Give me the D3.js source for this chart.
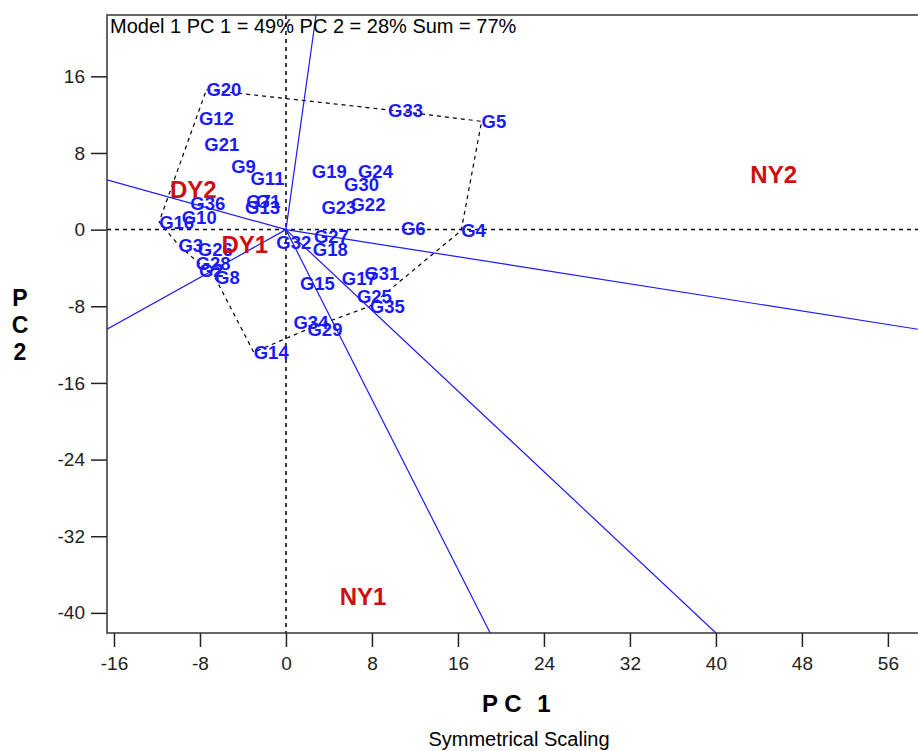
<!DOCTYPE html>
<html>
<head>
<meta charset="utf-8">
<script src="https://cdn.jsdelivr.net/npm/d3@7"></script>
<style>
  body { margin: 0; background: #fff; }
  svg { display: block; font-family: "Liberation Sans", Arial, sans-serif; }
</style>
</head>
<body>
<div id="container"></div>
<script>
// genotype scores (PC1, PC2)
const genoNames = ["G1","G2","G3","G4","G5","G6","G7","G8","G9","G10","G11","G12",
                   "G13","G14","G15","G16","G17","G18","G19","G20","G21","G22","G23","G24",
                   "G25","G26","G27","G28","G29","G30","G31","G32","G33","G34","G35","G36"];
const genoPC1 = [-2.8,-8.1,-10.0,16.3,18.2,10.7,-3.7,-6.6,-5.1,-9.7,-3.3,-8.1,
                 -3.8,-3.0,1.3,-11.8,5.2,2.5,2.4,-7.4,-7.6,6.0,3.3,6.7,
                 6.6,-8.2,2.6,-8.4,2.0,5.4,7.3,-0.9,9.5,0.7,7.8,-8.9];
const genoPC2 = [3.0,-4.3,-1.6,-0.1,11.3,0.1,2.9,-5.0,6.6,1.3,5.4,11.6,
                 2.3,-12.8,-5.6,0.8,-5.1,-2.1,6.1,14.6,8.9,2.6,2.3,6.1,
                 -7.0,-2.1,-0.7,-3.5,-10.4,4.7,-4.6,-1.3,12.5,-9.7,-8.0,2.7];

// environment scores
const envNames = ["DY1","DY2","NY1","NY2"];
const envPC1 = [-6.0,-10.8,5.0,43.2];
const envPC2 = [-1.5,4.2,-38.3,5.8];

// polygon vertices (convex hull of genotypes)
const hullNames = ["G20","G33","G5","G4","G35","G29","G14","G8","G3","G16","G20"];

// rays from the origin, perpendicular to polygon sides (end points)
const rayPC1 = [2.8,-16.65,58.8,-16.65,19.0,40.0];
const rayPC2 = [22.4,5.2,-10.4,-10.4,-42.1,-42.1];

const xTicks = [-16,-8,0,8,16,24,32,40,48,56];
const yTicks = [16,8,0,-8,-16,-24,-32,-40];

const w = 918, h = 751;
const padL = 107, padR = 918, padT = 15, padB = 633;

const xScale = d3.scaleLinear().domain([-16.65, 58.8]).range([padL, padR]);
const yScale = d3.scaleLinear().domain([-42.1, 22.4]).range([padB, padT]);

const svg = d3.select("#container").append("svg")
  .attr("width", w).attr("height", h);

svg.append("clipPath").attr("id", "clip")
  .append("rect").attr("x", padL).attr("y", padT)
  .attr("width", padR - padL).attr("height", padB - padT);

const plot = svg.append("g").attr("clip-path", "url(#clip)");

// dashed zero lines
plot.append("line")
  .attr("x1", xScale(0)).attr("x2", xScale(0))
  .attr("y1", padT).attr("y2", padB)
  .attr("stroke", "#000").attr("stroke-width", 1.5).attr("stroke-dasharray", "4,4");
plot.append("line")
  .attr("x1", padL).attr("x2", padR)
  .attr("y1", yScale(0)).attr("y2", yScale(0))
  .attr("stroke", "#000").attr("stroke-width", 1.5).attr("stroke-dasharray", "4,4");

// polygon
const idx = {};
genoNames.forEach((n, i) => idx[n] = i);
const line = d3.line().x(d => xScale(genoPC1[idx[d]])).y(d => yScale(genoPC2[idx[d]]));
plot.append("path")
  .attr("d", line(hullNames))
  .attr("fill", "none").attr("stroke", "#000")
  .attr("stroke-width", 1.2).attr("stroke-dasharray", "4,4");

// rays
plot.selectAll("line.ray")
  .data(rayPC1.map((d, i) => [d, rayPC2[i]]))
  .enter().append("line")
  .attr("class", "ray")
  .attr("x1", xScale(0)).attr("y1", yScale(0))
  .attr("x2", d => xScale(d[0])).attr("y2", d => yScale(d[1]))
  .attr("stroke", "#1a1aff").attr("stroke-width", 1.2);

// genotype labels
plot.selectAll("text.geno")
  .data(genoNames)
  .enter().append("text")
  .attr("class", "geno")
  .attr("x", (d, i) => xScale(genoPC1[i]))
  .attr("y", (d, i) => yScale(genoPC2[i]))
  .attr("dy", "0.36em")
  .attr("fill", "#1a1aff")
  .style("font-size", "18.5px")
  .style("font-weight", "bold")
  .text(d => d);

// environment labels
plot.selectAll("text.env")
  .data(envNames)
  .enter().append("text")
  .attr("class", "env")
  .attr("x", (d, i) => xScale(envPC1[i]))
  .attr("y", (d, i) => yScale(envPC2[i]))
  .attr("dy", "0.36em")
  .attr("fill", "#cc1010")
  .style("font-size", "24px")
  .style("font-weight", "bold")
  .text(d => d);

// axes
const xAxis = d3.axisBottom(xScale).tickValues(xTicks).tickSize(14).tickPadding(10)
  .tickFormat(d => String(d));
const yAxis = d3.axisLeft(yScale).tickValues(yTicks).tickSize(16).tickPadding(6)
  .tickFormat(d => String(d));

const gx = svg.append("g")
  .attr("transform", "translate(0," + padB + ")")
  .call(xAxis);
const gy = svg.append("g")
  .attr("transform", "translate(" + padL + ",0)")
  .call(yAxis);
[gx, gy].forEach(g => {
  g.select(".domain").remove();
  g.selectAll("line").attr("stroke", "#222").attr("stroke-width", 1.5);
  g.selectAll("text").attr("fill", "#222")
    .style("font-size", "19px").style("font-family", "Liberation Sans, Arial, sans-serif");
});

// frame
svg.append("rect")
  .attr("x", padL).attr("y", padT)
  .attr("width", padR - padL + 5).attr("height", padB - padT)
  .attr("fill", "none").attr("stroke", "#333").attr("stroke-width", 1.5);

// header text
svg.append("text")
  .attr("x", padL + 3).attr("y", 33)
  .style("font-size", "20px")
  .attr("fill", "#000")
  .text("Model 1 PC 1 = 49% PC 2 = 28% Sum = 77%");

// axis titles
[["P", 490], ["C", 513], ["1", 544]].forEach(([c, x]) => {
  svg.append("text")
    .attr("x", x).attr("y", 712)
    .attr("text-anchor", "middle")
    .style("font-size", "24px").style("font-weight", "bold")
    .text(c);
});

["P", "C", "2"].forEach((c, i) => {
  svg.append("text")
    .attr("x", 20).attr("y", 306 + i * 27)
    .attr("text-anchor", "middle")
    .style("font-size", "23px").style("font-weight", "bold")
    .text(c);
});

svg.append("text")
  .attr("x", 519).attr("y", 746)
  .attr("text-anchor", "middle")
  .style("font-size", "20px")
  .text("Symmetrical Scaling");
</script>
</body>
</html>
